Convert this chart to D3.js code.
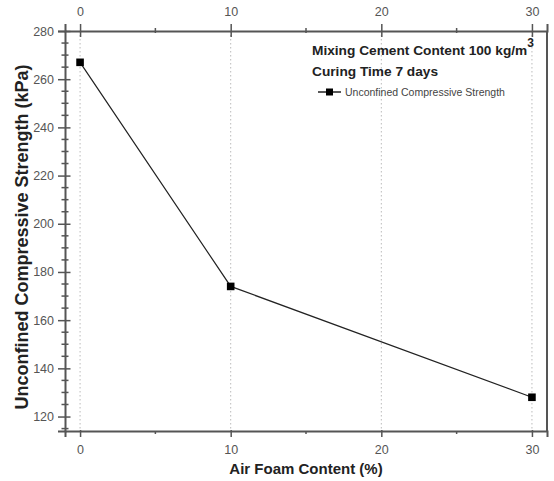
<!DOCTYPE html>
<html>
<head>
<meta charset="utf-8">
<script src="https://cdn.jsdelivr.net/npm/d3@7"></script>
<style>
  body { margin: 0; background: #fff; }
  svg { display: block; font-family: "Liberation Sans", Arial, sans-serif; }
</style>
</head>
<body>
<svg id="chart" width="554" height="481"></svg>
<script>
(function() {
"use strict";

// values
var foamContent = [0, 10, 30];
var strength = [267, 174, 128];
var xTicks = [0, 10, 20, 30];
var yTicks = [120, 140, 160, 180, 200, 220, 240, 260, 280];
var seriesName = 'Unconfined Compressive Strength';

var svg = d3.select('#chart');
var bounds = {left: 65, top: 31, right: 547, bottom: 431};

var x = d3.scaleLinear().domain([-1, 31]).range([bounds.left, bounds.right]);
var y = d3.scaleLinear().domain([114, 280]).range([bounds.bottom, bounds.top]);

var axisColor = '#555';

// dotted vertical grid
svg.append('g')
    .selectAll('line')
    .data(xTicks)
    .join('line')
        .attr('x1', function(d) { return x(d); })
        .attr('x2', function(d) { return x(d); })
        .attr('y1', bounds.top)
        .attr('y2', bounds.bottom)
        .attr('stroke', '#bbb')
        .attr('stroke-width', 1)
        .attr('stroke-dasharray', '1.5,2.5');

function styleAxis(g) {
    g.select('.domain').attr('stroke', axisColor).attr('stroke-width', 2);
    g.selectAll('.tick line').attr('stroke', axisColor).attr('stroke-width', 1.5);
    g.selectAll('.tick text').attr('fill', '#555').attr('font-size', 12.5);
}

// minor ticks, drawn across the axis line
function minorTicks(g, values, scale, orient) {
    g.append('g')
        .selectAll('line')
        .data(values)
        .join('line')
            .attr('stroke', axisColor)
            .attr('stroke-width', 1.5)
            .each(function(d) {
                var s = d3.select(this);
                if (orient === 'left') {
                    s.attr('x1', -3.5).attr('x2', 3.5).attr('y1', scale(d)).attr('y2', scale(d));
                } else if (orient === 'bottom') {
                    s.attr('y1', 0).attr('y2', 3).attr('x1', scale(d)).attr('x2', scale(d));
                } else {
                    s.attr('y1', -3).attr('y2', 2).attr('x1', scale(d)).attr('x2', scale(d));
                }
            });
}

var yMinor = d3.range(115, 281, 5).filter(function(v) { return v % 20 !== 0; });
var xMinor = [5, 15, 25];

var leftAxis = svg.append('g')
    .attr('transform', 'translate(' + bounds.left + ',0)')
    .call(d3.axisLeft(y).tickValues(yTicks).tickSizeOuter(0).tickSize(7).tickPadding(4));
leftAxis.selectAll('.tick line').attr('x2', -7).attr('x1', 5.5);
styleAxis(leftAxis);
minorTicks(leftAxis, yMinor, y, 'left');

var bottomAxis = svg.append('g')
    .attr('transform', 'translate(0,' + bounds.bottom + ')')
    .call(d3.axisBottom(x).tickValues(xTicks).tickSizeOuter(0).tickSize(6).tickPadding(8));
bottomAxis.selectAll('.tick line').attr('y1', -1);
styleAxis(bottomAxis);
minorTicks(bottomAxis, xMinor, x, 'bottom');

var topAxis = svg.append('g')
    .attr('transform', 'translate(0,' + bounds.top + ')')
    .call(d3.axisTop(x).tickValues(xTicks).tickSizeOuter(0).tickSize(7).tickPadding(8));
topAxis.selectAll('.tick line').attr('y1', 6);
styleAxis(topAxis);
minorTicks(topAxis, xMinor, x, 'top');

// right side of the frame
svg.append('line')
    .attr('x1', bounds.right).attr('x2', bounds.right)
    .attr('y1', bounds.top).attr('y2', bounds.bottom)
    .attr('stroke', axisColor).attr('stroke-width', 2);

// series line and markers
var pts = d3.zip(foamContent, strength);
svg.append('path')
    .datum(pts)
    .attr('fill', 'none')
    .attr('stroke', '#222')
    .attr('stroke-width', 1.2)
    .attr('d', d3.line().x(function(d) { return x(d[0]); }).y(function(d) { return y(d[1]); }));

svg.append('g')
    .selectAll('rect')
    .data(pts)
    .join('rect')
        .attr('x', function(d) { return x(d[0]) - 3.8; })
        .attr('y', function(d) { return y(d[1]) - 3.8; })
        .attr('width', 7.6)
        .attr('height', 7.6)
        .attr('fill', '#000');

// axis titles
svg.append('text')
    .attr('x', 306)
    .attr('y', 474)
    .attr('text-anchor', 'middle')
    .attr('font-size', 15)
    .attr('font-weight', 'bold')
    .attr('fill', '#222')
    .text('Air Foam Content (%)');

svg.append('text')
    .attr('transform', 'translate(28,237) rotate(-90)')
    .attr('text-anchor', 'middle')
    .attr('font-size', 18)
    .attr('font-weight', 'bold')
    .attr('fill', '#222')
    .text('Unconfined Compressive Strength (kPa)');

// legend block
var legend = svg.append('g').attr('transform', 'translate(312,0)');
var t1 = legend.append('text')
    .attr('x', 0).attr('y', 55)
    .attr('font-size', 13.7)
    .attr('font-weight', 'bold')
    .attr('fill', '#222')
    .text('Mixing Cement Content 100 kg/m');
t1.append('tspan')
    .attr('dy', -8)
    .attr('font-size', 12)
    .text('3');

legend.append('text')
    .attr('x', 0).attr('y', 76)
    .attr('font-size', 13.7)
    .attr('font-weight', 'bold')
    .attr('fill', '#222')
    .text('Curing Time 7 days');

legend.append('line')
    .attr('x1', 6).attr('x2', 29)
    .attr('y1', 92).attr('y2', 92)
    .attr('stroke', '#222').attr('stroke-width', 1.5);
legend.append('rect')
    .attr('x', 14).attr('y', 88.5).attr('width', 7).attr('height', 7)
    .attr('fill', '#000');
legend.append('text')
    .attr('x', 33).attr('y', 96)
    .attr('font-size', 10.5)
    .attr('fill', '#444')
    .text(seriesName);
})();
</script>
</body>
</html>
